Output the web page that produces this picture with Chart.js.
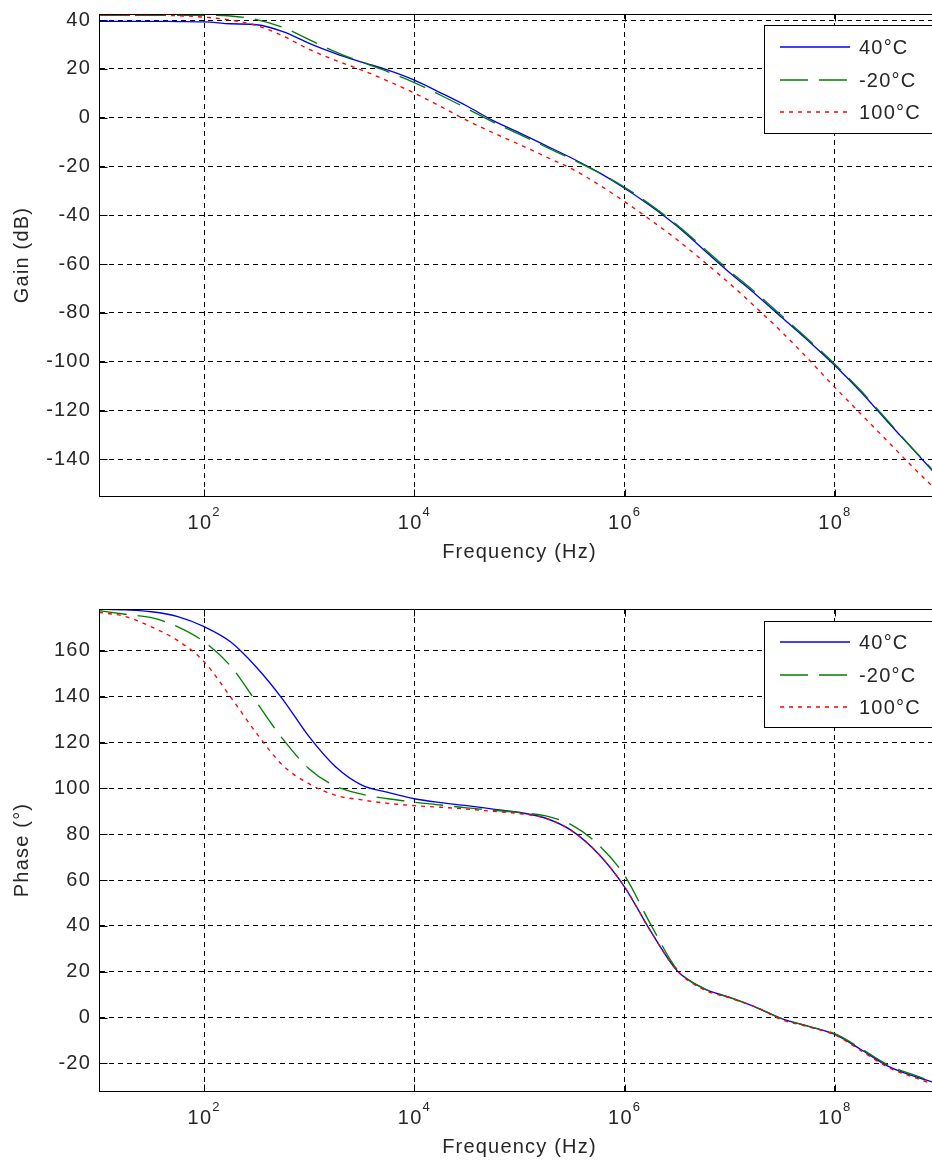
<!DOCTYPE html>
<html><head><meta charset="utf-8">
<script src="https://cdn.jsdelivr.net/npm/chart.js@4.4.1/dist/chart.umd.min.js"></script>
<style>
html,body{margin:0;padding:0;background:#fff;overflow:hidden;}
#wrap{position:relative;width:932px;height:1160px;overflow:hidden;background:#fff;}
canvas{position:absolute;left:0;}
#c1{top:0}
#c2{top:580px}
</style></head><body>
<div id="wrap"><canvas id="c1" width="950" height="580"></canvas><canvas id="c2" width="950" height="580"></canvas></div>
<script>
// ---- data (frequency in Hz, quarter-decade steps from 10 Hz to 1 GHz) ----
const freqHz = [1e1,1.78e1,3.16e1,5.62e1,1e2,1.78e2,3.16e2,5.62e2,1e3,1.78e3,3.16e3,5.62e3,1e4,1.78e4,3.16e4,5.62e4,1e5,1.78e5,3.16e5,5.62e5,1e6,1.78e6,3.16e6,5.62e6,1e7,1.78e7,3.16e7,5.62e7,1e8,1.78e8,3.16e8,5.62e8,1e9];
const seriesLabels = ['40\u00B0C','-20\u00B0C','100\u00B0C'];

const gain40  = [39.5,39.5,39.5,39.4,39.3,38.5,38.1,35.3,30.5,26.3,22.8,19.5,15.4,10.2,4.8,-1.2,-6.2,-11.4,-16.6,-22.3,-28.9,-36.3,-44.5,-54.0,-63.5,-72.5,-82.0,-91.5,-101.5,-112.5,-124.5,-136.2,-148.0];
const gainM20 = [42,42,42,42,42,41.7,40.2,37,32,27,22.8,18.8,14.4,9.2,3.8,-1.8,-6.8,-12,-17,-22.4,-28.5,-35.8,-44,-53.3,-62.8,-71.8,-81.3,-91,-101,-112,-124,-136,-147.5];
const gain100 = [42,42,42,41.8,41.2,40,37.8,33.5,28,23.5,19.5,15,10.1,4.6,-1.1,-6.2,-11,-16,-21,-27.3,-34.4,-42,-50,-58.8,-68,-77.8,-88,-99,-110.5,-121.5,-132.5,-143.5,-154];

const phase40  = [178.3,177.9,177.1,175,170.6,164,152.8,138.8,122.5,109.5,101.5,98.3,95.5,93.8,92.5,91,89.5,87,81.5,71.5,57,37.5,20.5,12.8,8.8,4.5,-0.5,-3.8,-7.3,-14,-21,-25.5,-29];
const phaseM20 = [177.6,176,174.5,170.5,164,153.5,137.5,121.5,108.5,101,97.5,95.5,94,92.8,91.5,90.5,89.5,88,84,75.5,62,40.5,21,12.8,8.8,4.5,-0.5,-3.8,-7,-13.5,-20.5,-25,-29];
const phase100 = [176.9,175,170.5,164.5,155.3,140,124,110,102,97,95,93.5,92.5,91.8,91,90,89,87,81.5,71.5,57,37.5,20.5,12.3,8.6,4.5,-1,-4,-7.5,-14.5,-21.5,-26,-30];

const xTickValues = [1e2,1e4,1e6,1e8];
const xTickExponents = ['2','4','6','8'];
const gainTicks  = [-140,-120,-100,-80,-60,-40,-20,0,20,40];
const phaseTicks = [-20,0,20,40,60,80,100,120,140,160];

// ---- styling ----
const FONT = "'Liberation Sans', Arial, Helvetica, sans-serif";
const TXT = '#262626';
const SPACING = '1.2px';
const styles = [
  {borderColor:'#0000f0', borderDash:[], order:3},
  {borderColor:'#008000', borderDash:[28,11], order:2},
  {borderColor:'#ff0000', borderDash:[4,5], order:1}
];

function makeDatasets(arrs){
  return arrs.map((vals,i)=>({
    label: seriesLabels[i],
    data: freqHz.map((f,k)=>({x:f, y:vals[k]})),
    borderColor: styles[i].borderColor,
    borderDash: styles[i].borderDash,
    order: styles[i].order,
    borderWidth: 1.35,
    pointRadius: 0,
    fill: false,
    cubicInterpolationMode: 'monotone'
  }));
}

const matlabPlugin = {
  id: 'matlab',
  beforeUpdate(chart){ chart.ctx.letterSpacing = SPACING; },
  beforeDraw(chart){
    const ctx = chart.ctx;
    ctx.letterSpacing = SPACING;
    ctx.save(); ctx.fillStyle = '#fff'; ctx.fillRect(0,0,chart.width,chart.height); ctx.restore();
  },
  afterDraw(chart, args, opts){
    const ctx = chart.ctx, a = chart.chartArea, xs = chart.scales.x, ys = chart.scales.y;
    ctx.save();
    ctx.letterSpacing = SPACING;
    ctx.strokeStyle = '#000'; ctx.lineWidth = 1; ctx.setLineDash([]);
    const L = Math.round(a.left)+0.5, R = Math.round(a.right)+0.5, T = Math.round(a.top)+0.5, B = Math.round(a.bottom)+0.5;
    ctx.strokeRect(L, T, R-L, B-T);
    ctx.beginPath();
    xTickValues.forEach(v=>{
      const px = Math.round(xs.getPixelForValue(v))+0.5;
      ctx.moveTo(px, B); ctx.lineTo(px, B-7);
      ctx.moveTo(px, T); ctx.lineTo(px, T+7);
    });
    ys.ticks.forEach(t=>{
      const py = Math.round(ys.getPixelForValue(t.value))+0.5;
      ctx.moveTo(L, py); ctx.lineTo(L+8, py);
      ctx.moveTo(R, py); ctx.lineTo(R-8, py);
    });
    ctx.stroke();
    // x tick labels 10^n
    ctx.fillStyle = TXT; ctx.textAlign = 'left'; ctx.textBaseline = 'middle';
    xTickValues.forEach((v,i)=>{
      const px = xs.getPixelForValue(v);
      ctx.font = '20px ' + FONT; const w1 = ctx.measureText('10').width;
      ctx.font = '13px ' + FONT; const w2 = ctx.measureText(xTickExponents[i]).width;
      const sx = px - (w1 + w2)/2;
      ctx.font = '20px ' + FONT; ctx.fillText('10', sx, a.bottom + 27);
      ctx.font = '13px ' + FONT; ctx.fillText(xTickExponents[i], sx + w1, a.bottom + 16);
    });
    // legend box
    const bx = opts.box;
    ctx.fillStyle = '#fff'; ctx.fillRect(bx.x, bx.y, bx.w, bx.h);
    ctx.strokeStyle = '#000'; ctx.lineWidth = 1; ctx.setLineDash([]);
    ctx.strokeRect(bx.x+0.5, bx.y+0.5, bx.w, bx.h);
    chart.data.datasets.forEach((ds,i)=>{
      const yy = bx.y + bx.rows[i];
      ctx.save();
      ctx.strokeStyle = styles[i].borderColor; ctx.lineWidth = 1.4; ctx.setLineDash(styles[i].borderDash);
      ctx.beginPath(); ctx.moveTo(bx.x+16, yy); ctx.lineTo(bx.x+86, yy); ctx.stroke();
      ctx.restore();
      ctx.fillStyle = TXT; ctx.font = '20px ' + FONT; ctx.textAlign = 'left'; ctx.textBaseline = 'middle';
      ctx.fillText(ds.label, bx.x+95, yy+1);
    });
    ctx.restore();
  }
};

function makeChart(id, arrs, yMin, yMax, yTicks, yTitle, padTop, xHeight, titlePadBottom, legendBox){
  return new Chart(document.getElementById(id), {
    type: 'line',
    data: { datasets: makeDatasets(arrs) },
    plugins: [matlabPlugin],
    options: {
      responsive: false, animation: false, devicePixelRatio: 1,
      layout: { padding: { top: padTop, right: 10, left: 0, bottom: 0 } },
      plugins: { legend: {display:false}, tooltip: {enabled:false}, matlab: { box: legendBox } },
      scales: {
        x: {
          type: 'logarithmic', min: 10, max: 1e9,
          afterBuildTicks: s => { s.ticks = xTickValues.map(v=>({value:v})); },
          afterFit: s => { s.height = xHeight; s.paddingLeft = 0; s.paddingRight = 0; },
          ticks: { display: false },
          grid: { color:'#000', lineWidth:1, drawTicks:false },
          border: { display:true, color:'#000', width:1, dash:[5,4] },
          title: { display:true, text:'Frequency (Hz)', color:TXT, font:{family:FONT, size:20}, padding:{top:0, bottom:titlePadBottom} }
        },
        y: {
          type: 'linear', min: yMin, max: yMax,
          afterBuildTicks: s => { s.ticks = yTicks.map(v=>({value:v})); },
          afterFit: s => { s.width = 99; s.paddingTop = 0; s.paddingBottom = 0; },
          ticks: { color:TXT, font:{family:FONT, size:20}, padding:8, callback: v => String(v) },
          grid: { color:'#000', lineWidth:1, drawTicks:false },
          border: { display:true, color:'#000', width:1, dash:[5,4] },
          title: { display:true, text:yTitle, color:TXT, font:{family:FONT, size:20}, padding:{top:10, bottom:0} }
        }
      }
    }
  });
}

makeChart('c1', [gain40, gainM20, gain100], -155, 42.5, gainTicks, 'Gain (dB)', 14, 84, 16,
  {x:764, y:25, w:172, h:108, rows:[22,55,87]});
makeChart('c2', [phase40, phaseM20, phase100], -32, 178.3, phaseTicks, 'Phase (\u00B0)', 29, 69, 1,
  {x:764, y:41, w:172, h:106, rows:[21,54,86]});
</script>
</body></html>
